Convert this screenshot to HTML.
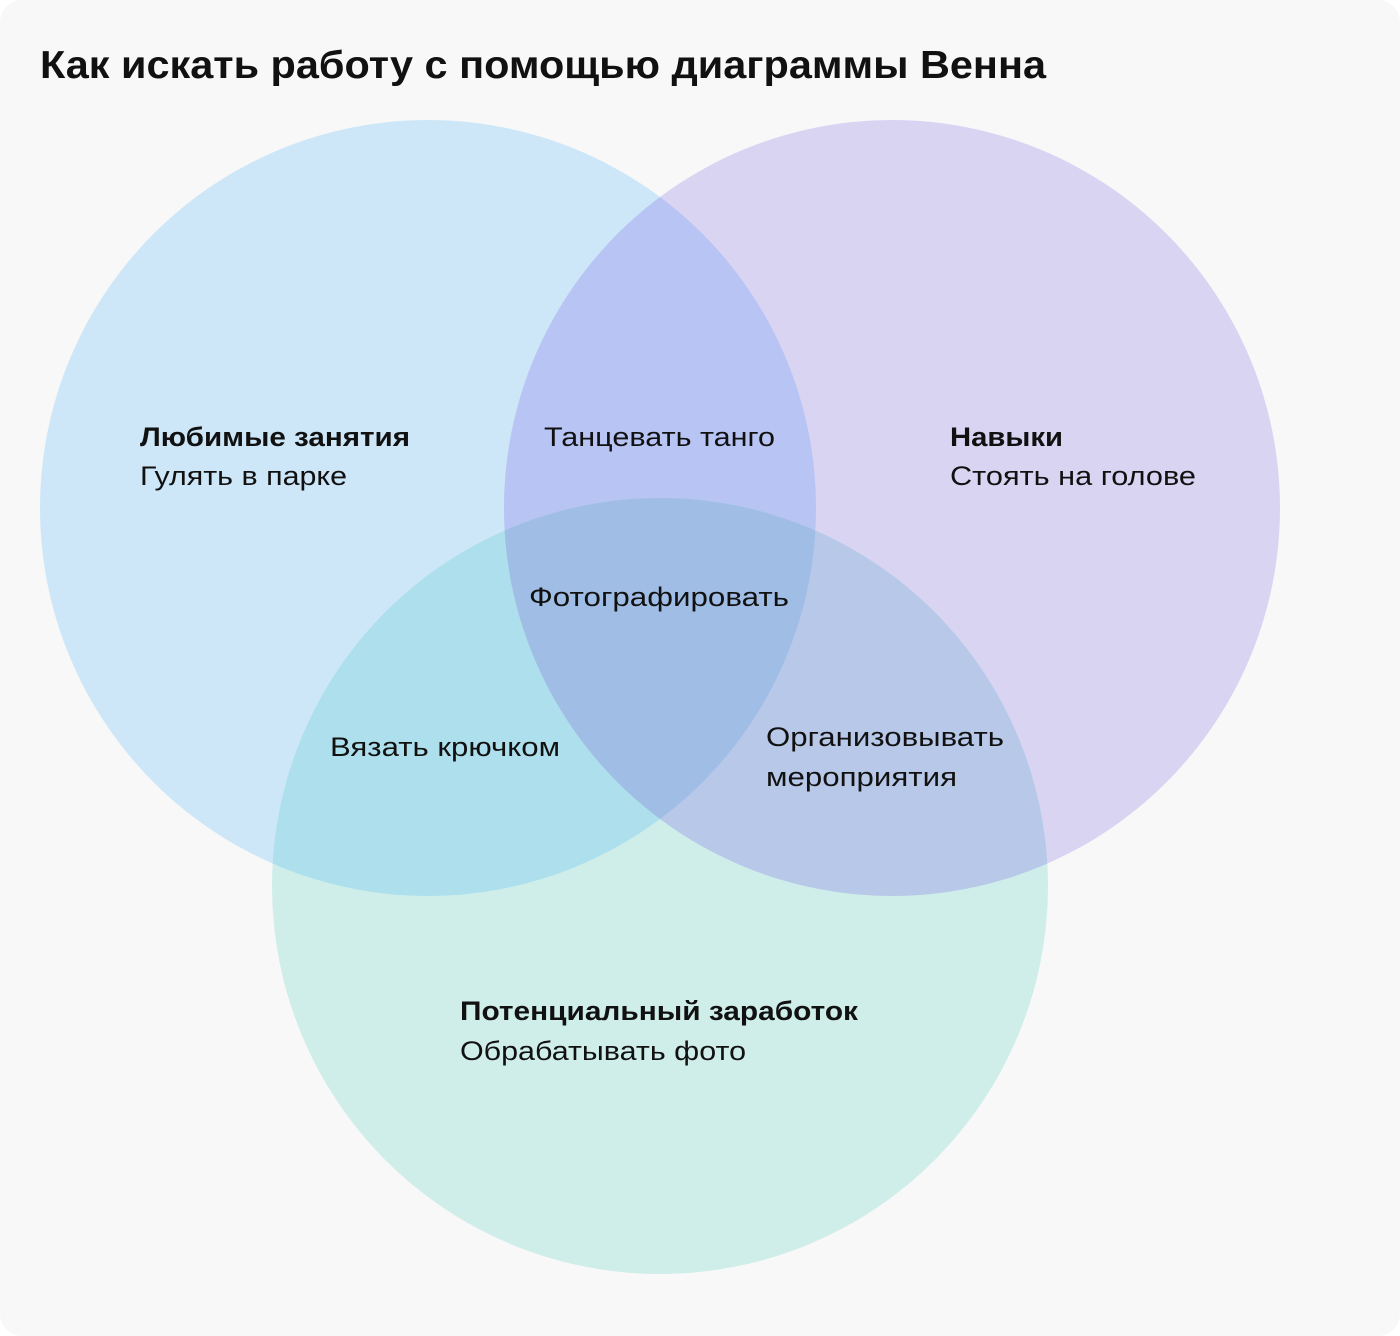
<!DOCTYPE html>
<html><head><meta charset="utf-8"><style>
html,body{margin:0;padding:0;background:#fff;}
svg{display:block;}
text{font-family:"Liberation Sans",sans-serif;fill:#111;}
</style></head><body>
<svg width="1400" height="1336" viewBox="0 0 1400 1336">
<defs>
<clipPath id="L"><circle cx="428" cy="508" r="388"/></clipPath>
<clipPath id="R"><circle cx="892" cy="508" r="388"/></clipPath>
<clipPath id="B"><circle cx="660" cy="886" r="388"/></clipPath>
</defs>
<rect x="0" y="0" width="1400" height="1336" rx="22" fill="#f8f8f8"/>
<circle cx="428" cy="508" r="388" fill="#cde7f8"/>
<circle cx="892" cy="508" r="388" fill="#dad4f3"/>
<circle cx="660" cy="886" r="388" fill="#cfeeea"/>
<g clip-path="url(#L)"><circle cx="892" cy="508" r="388" fill="#b8c4f4"/><circle cx="660" cy="886" r="388" fill="#ade0ec"/></g>
<g clip-path="url(#R)"><circle cx="660" cy="886" r="388" fill="#b7c8e8"/></g>
<g clip-path="url(#L)"><g clip-path="url(#R)"><circle cx="660" cy="886" r="388" fill="#a0bde6"/></g></g>
<text x="40" y="78" font-size="39" font-weight="bold" textLength="1006" lengthAdjust="spacingAndGlyphs">Как искать работу с помощью диаграммы Венна</text>
<g font-size="27">
<text x="140" y="446" font-weight="bold" textLength="270" lengthAdjust="spacingAndGlyphs">Любимые занятия</text>
<text x="140" y="485" textLength="207" lengthAdjust="spacingAndGlyphs">Гулять в парке</text>
<text x="950" y="446" font-weight="bold" textLength="113" lengthAdjust="spacingAndGlyphs">Навыки</text>
<text x="950" y="485" textLength="246" lengthAdjust="spacingAndGlyphs">Стоять на голове</text>
<text x="544" y="446" textLength="231" lengthAdjust="spacingAndGlyphs">Танцевать танго</text>
<text x="529" y="606" textLength="260" lengthAdjust="spacingAndGlyphs">Фотографировать</text>
<text x="330" y="756" textLength="230" lengthAdjust="spacingAndGlyphs">Вязать крючком</text>
<text x="766" y="746" textLength="238" lengthAdjust="spacingAndGlyphs">Организовывать</text>
<text x="766" y="786" textLength="191" lengthAdjust="spacingAndGlyphs">мероприятия</text>
<text x="460" y="1020" font-weight="bold" textLength="398" lengthAdjust="spacingAndGlyphs">Потенциальный заработок</text>
<text x="460" y="1060" textLength="286" lengthAdjust="spacingAndGlyphs">Обрабатывать фото</text>
</g>
</svg>
</body></html>
